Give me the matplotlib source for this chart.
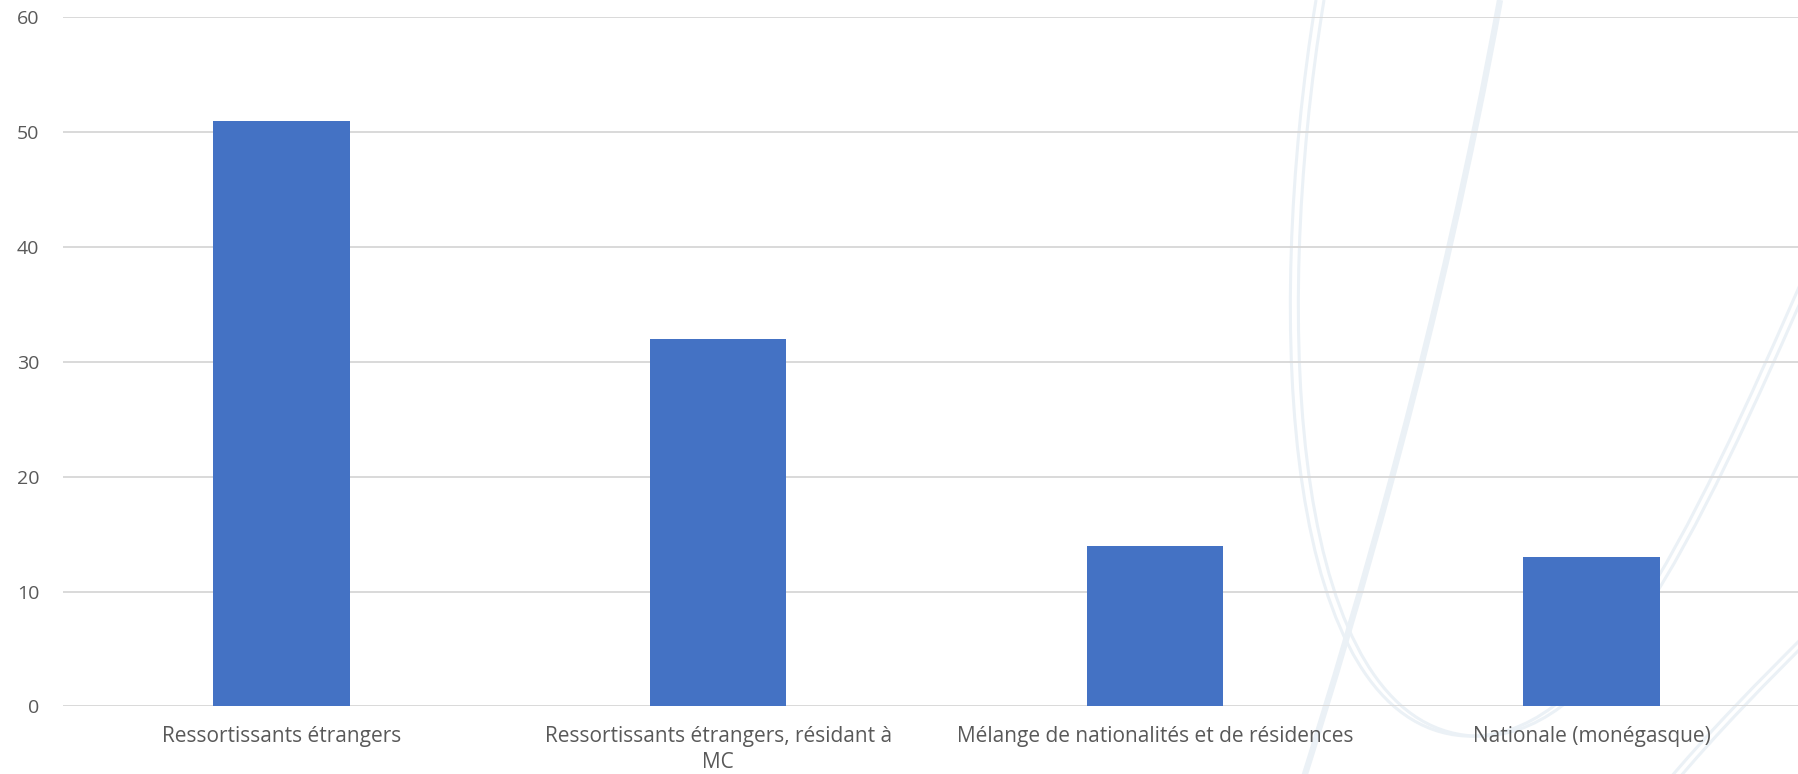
import matplotlib
matplotlib.use("Agg")
import matplotlib.pyplot as plt
from matplotlib.path import Path
from matplotlib.patches import PathPatch
from matplotlib.transforms import IdentityTransform

# data
categories = [
    "Ressortissants étrangers",
    "Ressortissants étrangers, résidant à\nMC",
    "Mélange de nationalités et de résidences",
    "Nationale (monégasque)",
]
values = [51, 32, 14, 13]
yticks = [0, 10, 20, 30, 40, 50, 60]

bar_color = "#4472c4"
grid_color = "#d9d9d9"
text_color = "#595959"
deco_color = "#ebf1f6"

plt.rcParams["font.family"] = ["Open Sans", "DejaVu Sans"]

W, H = 1798, 774
fig = plt.figure(figsize=(W / 100, H / 100), dpi=100)
fig.patch.set_facecolor("white")


# faint watermark curves behind the chart (pixel coords, y from top)
def deco(verts, codes, lw, dx=0.0):
    pts = [(x + dx, H - y) for x, y in verts]
    p = PathPatch(Path(pts, codes), fill=False, edgecolor=deco_color,
                  lw=lw, transform=IdentityTransform(), zorder=0)
    fig.add_artist(p)


M, C4 = Path.MOVETO, Path.CURVE4
loop = [(1316, 0), (1262, 330), (1285, 725), (1465, 736),
        (1590, 742), (1680, 560), (1810, 262)]
loop_codes = [M, C4, C4, C4, C4, C4, C4]
deco(loop, loop_codes, 2.2)
deco(loop, loop_codes, 2.2, dx=8)

line2 = [(1500, 0), (1440, 330), (1360, 600), (1300, 790)]
deco(line2, [M, C4, C4, C4], 4.5)

line3 = [(1810, 630), (1760, 680), (1710, 730), (1660, 790)]
deco(line3, [M, C4, C4, C4], 2.2)
deco(line3, [M, C4, C4, C4], 2.2, dx=9)

ax = fig.add_axes([63 / W, 67.6 / H, 1747 / W, 689.2 / H])
ax.patch.set_visible(False)

x = range(len(categories))
ax.bar(x, values, width=0.312, color=bar_color, zorder=3)

ax.set_xlim(-0.5, len(categories) - 0.5)
ax.set_ylim(0, 60)
ax.set_yticks(yticks)
ax.set_xticks(list(x))
ax.set_xticklabels(categories, linespacing=1.3)

ax.yaxis.grid(True, color=grid_color, lw=1.4, zorder=1)
ax.set_axisbelow(True)
for s in ax.spines.values():
    s.set_visible(False)

ax.tick_params(axis="y", length=0, pad=17, labelsize=14, labelcolor=text_color)
ax.tick_params(axis="x", length=0, pad=14, labelsize=15, labelcolor=text_color)

fig.savefig("out.png", dpi=100)
